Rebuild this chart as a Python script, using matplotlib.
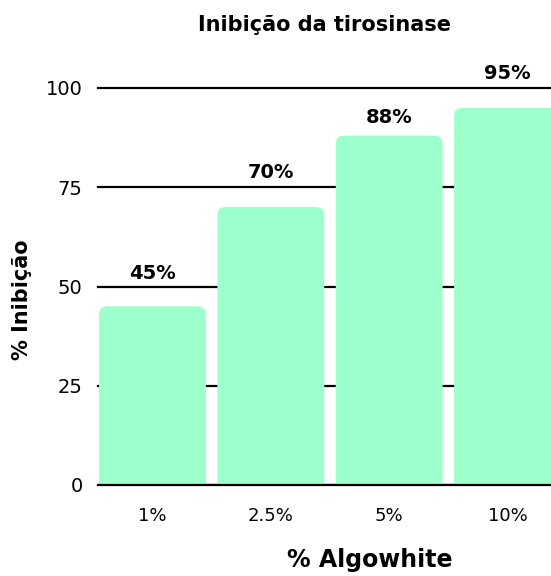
import matplotlib
matplotlib.use("Agg")
import matplotlib.pyplot as plt
from matplotlib.patches import FancyBboxPatch

plt.rcParams["font.family"] = ["DejaVu Sans"]

categories = ["1%", "2.5%", "5%", "10%"]
values = [45, 70, 88, 95]
labels = ["45%", "70%", "88%", "95%"]
label_offsets = [19.5, 21, 9, 20.5]  # points from bar top to text baseline

bar_color = "#9dffcb"
width = 0.903

fig = plt.figure(figsize=(5.51, 5.76), dpi=100)
ax = fig.add_axes([98 / 551, 91 / 576, 1 - 98 / 551, 397 / 576])
ax.set_xlim(-0.46, 3.367)
ax.set_ylim(0, 100)

for y in [0, 25, 50, 75, 100]:
    ax.axhline(y, color="black", lw=1.6, zorder=1, clip_on=False)

# rounded top corners, ~8px radius
rx = 8 / 118.5
ry = 8 / 3.97
for i, v in enumerate(values):
    p = FancyBboxPatch((i - width / 2, -5), width, v + 5,
                       boxstyle=f"round,pad=0,rounding_size={rx}",
                       mutation_aspect=ry / rx,
                       fc=bar_color, ec="none", zorder=2)
    ax.add_patch(p)
    ax.annotate(labels[i], (i, v), xytext=(0, label_offsets[i]),
                textcoords="offset points", ha="center", va="baseline",
                fontsize=14, fontweight="bold", clip_on=False)

ax.axhline(0, color="black", lw=1.6, zorder=3)

ax.set_xticks(range(len(categories)), categories)
ax.set_yticks([0, 25, 50, 75, 100])
ax.tick_params(axis="x", length=0, pad=16, labelsize=13)
ax.tick_params(axis="y", length=0, pad=11, labelsize=14)
for s in ax.spines.values():
    s.set_visible(False)

ax.set_xlabel("% Algowhite", fontsize=17, fontweight="bold", va="center")
ax.xaxis.set_label_coords((370 - 98) / 453, (16 - 91) / 397)
ax.set_ylabel("% Inibição", fontsize=15, fontweight="bold", va="center")
ax.yaxis.set_label_coords((22 - 98) / 453, (276 - 91) / 397)
fig.text(325 / 551, 1 - 25 / 576, "Inibição da tirosinase", ha="center",
         va="center", fontsize=15, fontweight="bold")

fig.savefig("out.png", dpi=100)
